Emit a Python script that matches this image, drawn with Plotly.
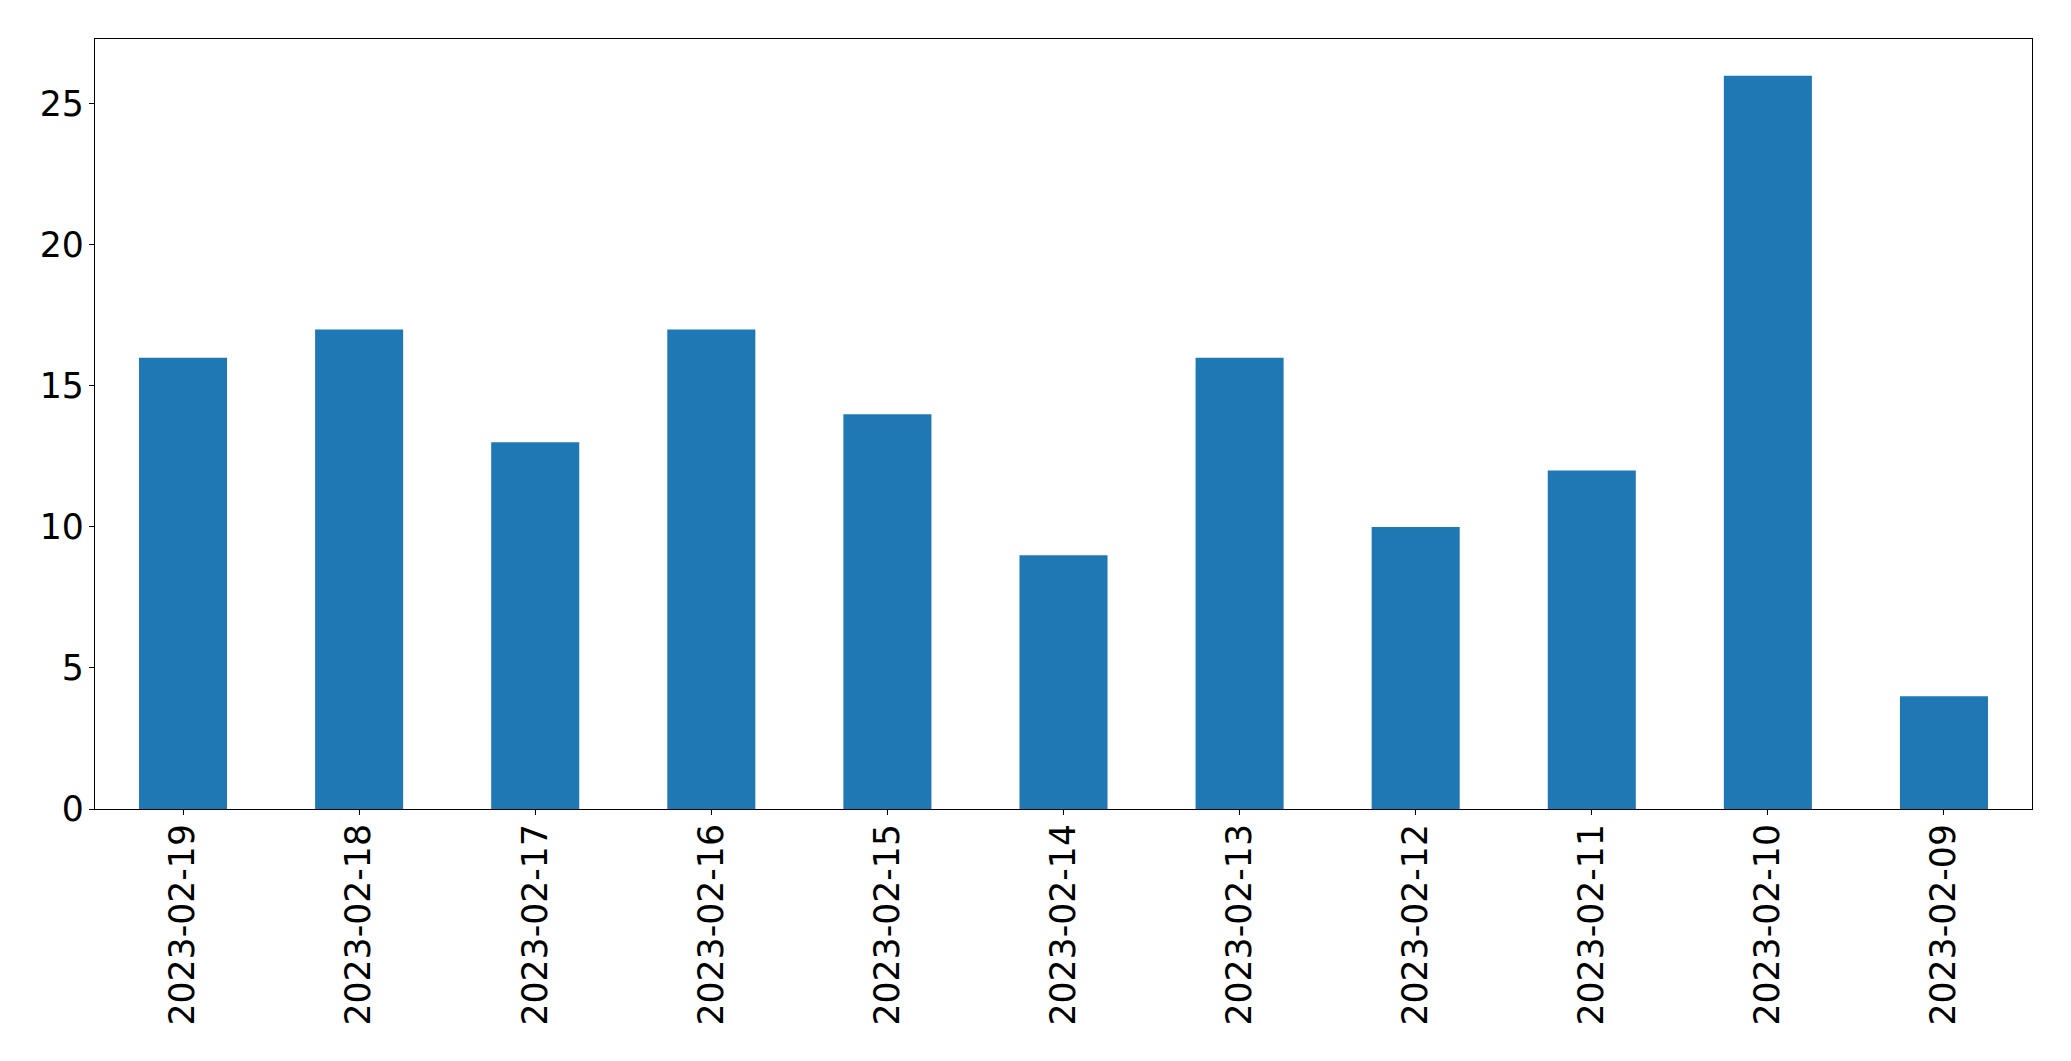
import plotly.graph_objects as go

dates = ["2023-02-19", "2023-02-18", "2023-02-17", "2023-02-16", "2023-02-15",
         "2023-02-14", "2023-02-13", "2023-02-12", "2023-02-11", "2023-02-10", "2023-02-09"]
counts = [16, 17, 13, 17, 14, 9, 16, 10, 12, 26, 4]
y_ticks = [0, 5, 10, 15, 20, 25]

fig = go.Figure(go.Bar(x=dates, y=counts, marker=dict(color="#1f77b4", line=dict(width=0))))

# the page body has an 8px default margin, so the figure is offset by 8px
fig.update_layout(
    width=2063, height=1053,
    margin=dict(l=86.5, r=39.3, t=31.3, b=252),
    paper_bgcolor="white", plot_bgcolor="white",
    font=dict(family="DejaVu Sans", size=34.7, color="black"),
    bargap=0.5, showlegend=False,
)
fig.update_xaxes(
    type="category", range=[-0.5, len(dates) - 0.5], tickangle=-90,
    showline=True, linecolor="black", linewidth=1.3, mirror=True,
    ticks="outside", ticklen=5, tickwidth=1.3, tickcolor="black",
    ticklabelstandoff=-5,
    showgrid=False, zeroline=False,
)
fig.update_yaxes(
    range=[0, 27.3], tickvals=y_ticks,
    showline=True, linecolor="black", linewidth=1.3, mirror=True,
    ticks="outside", ticklen=5, tickwidth=1.3, tickcolor="black",
    ticklabelstandoff=-2,
    showgrid=False, zeroline=False,
)
fig.write_html("out.html")
